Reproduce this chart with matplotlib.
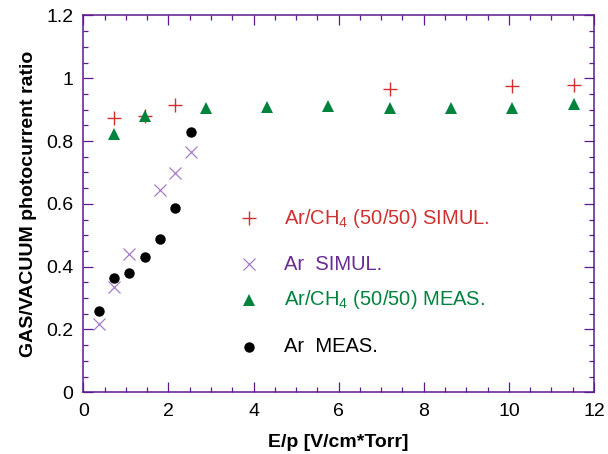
import numpy as np
import matplotlib
matplotlib.use("Agg")
import matplotlib.pyplot as plt
from matplotlib.ticker import MultipleLocator, FuncFormatter

plt.rcParams['font.family'] = ['Liberation Sans', 'DejaVu Sans']
plt.rcParams['mathtext.fontset'] = 'custom'
plt.rcParams['mathtext.rm'] = 'Liberation Sans'
plt.rcParams['mathtext.it'] = 'Liberation Sans'
plt.rcParams['mathtext.default'] = 'regular'

## E/p values [V/cm*Torr]
ep_ch4_sim = [0.72, 1.44, 2.16, 7.20, 10.08, 11.52]
ratio_ch4_sim = [0.873, 0.879, 0.914, 0.965, 0.975, 0.978]

ep_ar_sim = [0.36, 0.72, 1.08, 1.80, 2.16, 2.52]
ratio_ar_sim = [0.217, 0.335, 0.440, 0.644, 0.699, 0.765]

ep_ch4_meas = [0.72, 1.44, 2.88, 4.32, 5.76, 7.20, 8.64, 10.08, 11.52]
ratio_ch4_meas = [0.822, 0.879, 0.905, 0.908, 0.911, 0.905, 0.905, 0.905, 0.918]

ep_ar_meas = [0.36, 0.72, 1.08, 1.44, 1.80, 2.16, 2.52]
ratio_ar_meas = [0.259, 0.364, 0.380, 0.431, 0.488, 0.587, 0.829]

axis_col = '#5c1a8c'
red = '#d03030'
purple_mk = '#a67cc8'
purple_txt = '#6b2c91'
green = '#00843d'

fig = plt.figure(figsize=(6.08, 4.54), dpi=100)
ax = fig.add_axes([0.137, 0.136, 0.840, 0.830])

series = [
    (ep_ch4_sim, ratio_ch4_sim, dict(marker='+', color=red, ms=10, mew=1.0)),
    (ep_ar_sim, ratio_ar_sim, dict(marker='x', color=purple_mk, ms=9, mew=0.9)),
    (ep_ch4_meas, ratio_ch4_meas, dict(marker='^', color=green, ms=8, mew=0)),
    (ep_ar_meas, ratio_ar_meas, dict(marker='o', color='black', ms=7.5, mew=0)),
]
for x, y, st in series:
    ax.plot(x, y, linestyle='none', **st)

## hand placed key
labels = ['Ar/CH$_4$ (50/50) SIMUL.', 'Ar  SIMUL.', 'Ar/CH$_4$ (50/50) MEAS.', 'Ar  MEAS.']
text_cols = [red, purple_txt, green, 'black']
key_y = [0.462, 0.340, 0.245, 0.121]
for (x, y, st), lab, tc, ky in zip(series, labels, text_cols, key_y):
    ax.plot([0.324], [ky], linestyle='none', transform=ax.transAxes, clip_on=False, **st)
    ax.text(0.393, ky, lab, color=tc, fontsize=14.5, va='center', ha='left',
            transform=ax.transAxes)

ax.set_xlim(0, 12)
ax.set_ylim(0, 1.2)
ax.xaxis.set_major_locator(MultipleLocator(2))
ax.xaxis.set_minor_locator(MultipleLocator(0.5))
ax.yaxis.set_major_locator(MultipleLocator(0.2))
ax.yaxis.set_minor_locator(MultipleLocator(0.05))
ax.yaxis.set_major_formatter(FuncFormatter(lambda v, p: '%g' % round(v, 2)))
ax.xaxis.set_major_formatter(FuncFormatter(lambda v, p: '%g' % v))

ax.tick_params(which='both', direction='in', top=True, right=True,
               color=axis_col, width=0.9, labelsize=14, labelcolor='black', pad=7)
ax.tick_params(axis='x', which='major', pad=8)
ax.tick_params(which='major', length=7)
ax.tick_params(which='minor', length=3.8)
for s in ax.spines.values():
    s.set_color(axis_col)
    s.set_linewidth(1.1)

ax.set_xlabel('E/p [V/cm*Torr]', fontsize=14, fontweight='bold', labelpad=10)
ax.set_ylabel('GAS/VACUUM photocurrent ratio', fontsize=14, fontweight='bold', labelpad=7)

fig.savefig('out.png', dpi=100)
